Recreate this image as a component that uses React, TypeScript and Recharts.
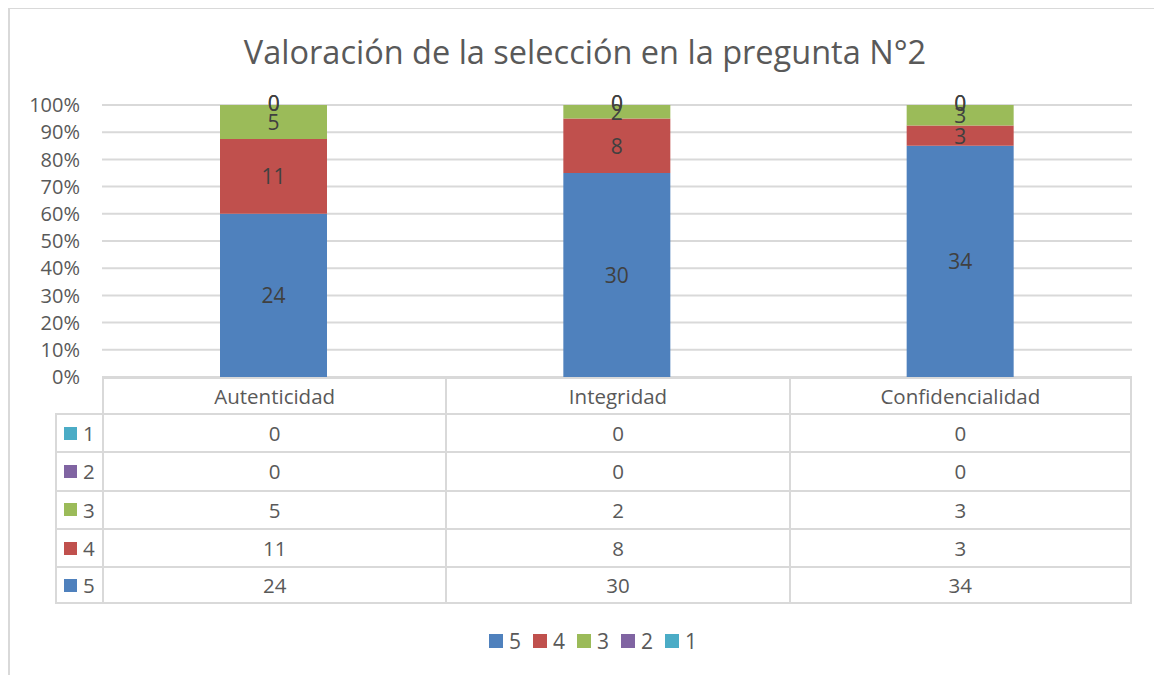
import React from "react";
import { BarChart, Bar, XAxis, YAxis, CartesianGrid, LabelList, ReferenceDot } from "recharts";

const categories = ["Autenticidad", "Integridad", "Confidencialidad"];
const s5 = [24, 30, 34];
const s4 = [11, 8, 3];
const s3 = [5, 2, 3];
const s2 = [0, 0, 0];
const s1 = [0, 0, 0];
const yTicks = [0, 0.1, 0.2, 0.3, 0.4, 0.5, 0.6, 0.7, 0.8, 0.9, 1];

const seriesDefs = [
  { key: "s5", name: "5", color: "#4f81bd", values: s5 },
  { key: "s4", name: "4", color: "#c0504d", values: s4 },
  { key: "s3", name: "3", color: "#9bbb59", values: s3 },
  { key: "s2", name: "2", color: "#8064a2", values: s2 },
  { key: "s1", name: "1", color: "#4bacc6", values: s1 },
];

const data = categories.map((c, i) => {
  const row: any = { name: c };
  seriesDefs.forEach((s) => (row[s.key] = s.values[i]));
  return row;
});

// zero-valued segments get their label drawn at their stacked position (height 0 bars render no label)
const zeroLabels: { cat: string; y: number; value: number; key: string }[] = [];
categories.forEach((c, i) => {
  const total = seriesDefs.reduce((a, s) => a + s.values[i], 0);
  let cum = 0;
  seriesDefs.forEach((s) => {
    cum += s.values[i];
    if (s.values[i] === 0) zeroLabels.push({ cat: c, y: cum / total, value: s.values[i], key: s.key + "-" + i });
  });
});

const W = 1154;
const H = 667;
const M = { top: 97, right: 30, bottom: 298, left: 0 };
const Y_W = 94;
const plotLeft = M.left + Y_W;
const plotRight = W - M.right;
const plotBottom = H - M.bottom;
const colW = (plotRight - plotLeft) / categories.length;
const FONT = "'Open Sans', 'Noto Sans', sans-serif";
const GRID = "#d9d9d9";
const TXT = "#595959";
const LBL = "#404040";

const HEADER_H = 36;
const ROW_H = 38.3;
const TABLE_LEFT = 47;
const tableRows = [...seriesDefs].reverse();

const renderLabel = (props: any) => {
  const { x, y, width, height, value } = props;
  if (value === undefined || value === null) return null;
  const cx = Number(x) + Number(width) / 2;
  const cy = Number(y) + Number(height) / 2;
  return (
    <text x={cx} y={cy} textAnchor="middle" dominantBaseline="central" fill={LBL} fontSize={21} fontFamily={FONT}>
      {value}
    </text>
  );
};

const renderZeroLabel = (value: number) => (props: any) => {
  const { viewBox } = props;
  const cx = viewBox.x + viewBox.width / 2;
  const cy = viewBox.y + viewBox.height / 2 - 2;
  return (
    <text x={cx} y={cy} textAnchor="middle" dominantBaseline="central" fill={LBL} fontSize={21} fontFamily={FONT}>
      {value}
    </text>
  );
};

function LegendBlock() {
  return (
    <div style={{ position: "absolute", left: 14, top: 619, width: W, display: "flex", justifyContent: "center", fontFamily: FONT, fontSize: 21, color: TXT }}>
      {seriesDefs.map((s) => (
        <div key={s.key} style={{ display: "flex", alignItems: "center", marginRight: 12 }}>
          <span style={{ width: 14, height: 14, background: s.color, display: "inline-block", marginRight: 6 }} />
          <span>{s.name}</span>
        </div>
      ))}
    </div>
  );
}

function Table() {
  const cells: React.ReactNode[] = [];
  const b = `2px solid ${GRID}`;
  categories.forEach((c, i) => {
    cells.push(
      <div key={"h" + i} style={{ position: "absolute", left: plotLeft + i * colW, top: plotBottom, width: colW, height: HEADER_H, boxSizing: "border-box", borderLeft: b, borderTop: b, borderRight: i === categories.length - 1 ? b : undefined, display: "flex", alignItems: "center", justifyContent: "center" }}>
        {c}
      </div>
    );
  });
  tableRows.forEach((s, r) => {
    const top = plotBottom + HEADER_H + r * ROW_H;
    const last = r === tableRows.length - 1;
    cells.push(
      <div key={"l" + r} style={{ position: "absolute", left: TABLE_LEFT, top, width: plotLeft - TABLE_LEFT, height: ROW_H, boxSizing: "border-box", borderLeft: b, borderTop: b, borderBottom: last ? b : undefined, display: "flex", alignItems: "center", paddingLeft: 7 }}>
        <span style={{ width: 13, height: 13, background: s.color, display: "inline-block", marginRight: 6 }} />
        <span>{s.name}</span>
      </div>
    );
    categories.forEach((c, i) => {
      cells.push(
        <div key={"c" + r + "-" + i} style={{ position: "absolute", left: plotLeft + i * colW, top, width: colW, height: ROW_H, boxSizing: "border-box", borderLeft: b, borderTop: b, borderBottom: last ? b : undefined, borderRight: i === categories.length - 1 ? b : undefined, display: "flex", alignItems: "center", justifyContent: "center" }}>
          {s.values[i]}
        </div>
      );
    });
  });
  return <div style={{ position: "absolute", left: 0, top: 0, fontFamily: FONT, fontSize: 20.5, color: TXT }}>{cells}</div>;
}

export default function App() {
  return (
    <div style={{ position: "relative", width: W, height: H, background: "#fff" }}>
      <div style={{ position: "absolute", left: 0, top: -1, width: W - 2, height: H + 1, boxSizing: "border-box", borderLeft: `2px solid ${GRID}`, borderTop: `2px solid ${GRID}`, borderRight: `2px solid ${GRID}` }} />
      <div style={{ position: "absolute", left: 0, top: 21, width: W, textAlign: "center", fontFamily: FONT, fontSize: 32.5, color: TXT }}>
        Valoración de la selección en la pregunta N°2
      </div>
      <div style={{ position: "absolute", left: 0, top: 0 }}>
        <BarChart width={W} height={H} data={data} margin={M} stackOffset="expand">
          <CartesianGrid vertical={false} stroke={GRID} strokeWidth={2} />
          <XAxis dataKey="name" hide />
          <YAxis
            width={Y_W}
            ticks={yTicks}
            domain={[0, 1]}
            axisLine={false}
            tickLine={false}
            tickSize={6}
            tickMargin={16}
            tickFormatter={(v: number) => `${Math.round(v * 100)}%`}
            tick={{ fill: TXT, fontSize: 20, fontFamily: FONT }}
            interval={0}
          />
          {seriesDefs.map((s) => (
            <Bar key={s.key} dataKey={s.key} name={s.name} stackId="a" fill={s.color} barSize={107} isAnimationActive={false}>
              <LabelList dataKey={s.key} content={renderLabel} />
            </Bar>
          ))}
          {zeroLabels.map((z) => (
            <ReferenceDot key={z.key} x={z.cat} y={z.y} r={1} fill="none" stroke="none" ifOverflow="visible" label={renderZeroLabel(z.value)} />
          ))}
        </BarChart>
      </div>
      <Table />
      <LegendBlock />
    </div>
  );
}
